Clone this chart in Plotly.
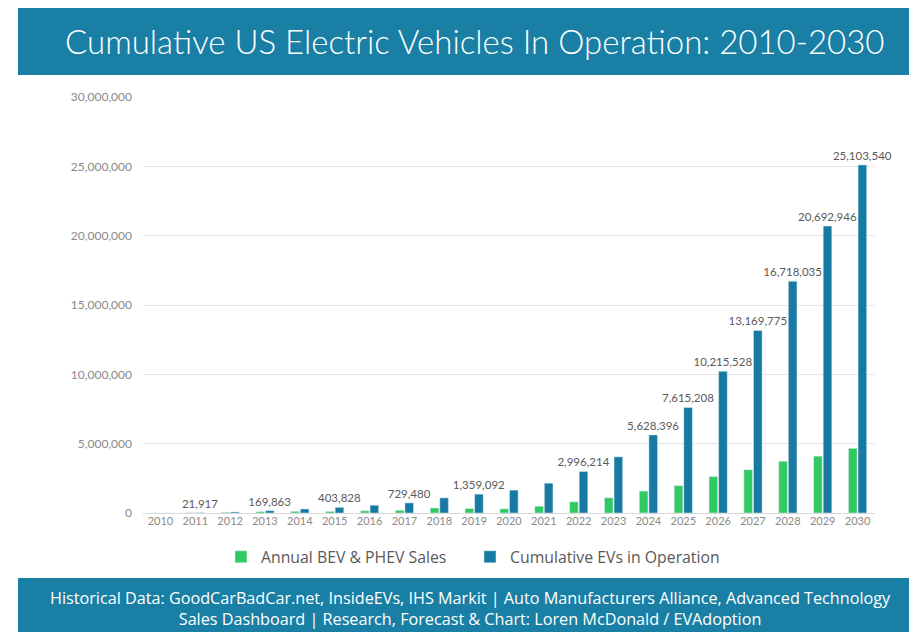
import plotly.graph_objects as go

# ---- data ----
years = [str(y) for y in range(2010, 2031)]
annual_sales = [1000, 17800, 53000, 97000, 119000, 114000, 160000, 195000, 361000, 327000,
                300000, 490000, 810000, 1100000, 1580000, 1970000, 2630000, 3120000,
                3730000, 4100000, 4660000]
cumulative = [3000, 21917, 75000, 169863, 290000, 403828, 560000, 729480, 1090000, 1359092,
              1650000, 2150000, 2996214, 4050000, 5628396, 7615208, 10215528, 13169775,
              16718035, 20692946, 25103540]
labeled_years = ["2011", "2013", "2015", "2017", "2019", "2022", "2024", "2025",
                 "2026", "2027", "2028", "2029", "2030"]
y_ticks = [0, 5000000, 10000000, 15000000, 20000000, 25000000, 30000000]

title_text = "Cumulative US Electric Vehicles In Operation: 2010-2030"
footer_text = ("Historical Data: GoodCarBadCar.net, InsideEVs, IHS Markit | Auto Manufacturers Alliance, Advanced Technology"
               "<br>Sales Dashboard | Research, Forecast & Chart: Loren McDonald / EVAdoption")

GREEN = "#2fcb62"
BLUE = "#167aa3"
BANNER = "#1a7fa5"

# page has an 8px body margin; figure is sized to fill the rest of the window
O = 8
W, H = 917 - O, 632 - O
L, R, T, B = 143 - O, 42, 97 - O, 119
PW, PH = W - L - R, H - T - B


def px(x_ref):
    return (x_ref - O - L) / PW


def py(y_ref):
    return (H - B - (y_ref - O)) / PH


cum_text = [f"{v:,}" if yr in labeled_years else "" for yr, v in zip(years, cumulative)]

fig = go.Figure()
fig.add_trace(go.Bar(x=years, y=annual_sales, name="Annual BEV & PHEV Sales",
                     marker_color=GREEN))
fig.add_trace(go.Bar(x=years, y=cumulative, name="Cumulative EVs in Operation",
                     marker_color=BLUE, text=cum_text, textposition="outside",
                     constraintext="none",
                     textfont=dict(size=11.5, color="#595959", family="Lato"),
                     cliponaxis=False))

fig.update_layout(
    width=W, height=H,
    margin=dict(l=L, r=R, t=T, b=B),
    paper_bgcolor="white", plot_bgcolor="white",
    barmode="group", bargap=0.45, bargroupgap=0.1,
    font=dict(family="Lato", color="#8a8a8a"),
    showlegend=True,
    legend=dict(orientation="h", x=px(221), xanchor="left", y=py(557), yanchor="middle",
                font=dict(size=15.8, color="#595959", family="Open Sans"),
                itemwidth=30,
                entrywidth=204, entrywidthmode="pixels", traceorder="normal"),
    xaxis=dict(type="category", tickfont=dict(size=11, color="#8a8a8a"),
               showgrid=False, ticks="", showline=False),
    yaxis=dict(range=[0, 30000000], tickvals=y_ticks, tickformat=",",
               tickfont=dict(size=12, color="#8a8a8a"),
               showgrid=True, gridcolor="#e6e6e6", gridwidth=1,
               zeroline=True, zerolinecolor="#d9d9d9", zerolinewidth=1,
               ticks="", ticklabelstandoff=10),
    shapes=[
        dict(type="rect", xref="paper", yref="paper", x0=px(18), x1=px(917), y0=py(75), y1=py(8),
             fillcolor=BANNER, line=dict(width=0), layer="below"),
        dict(type="rect", xref="paper", yref="paper", x0=px(18), x1=px(917), y0=py(632), y1=py(578),
             fillcolor=BANNER, line=dict(width=0), layer="below"),
    ],
    annotations=[
        dict(text=title_text, xref="paper", yref="paper", x=px(475), y=py(41),
             xanchor="center", yanchor="middle", showarrow=False,
             font=dict(size=33, color="white", family="Lato", weight=300)),
        dict(text=footer_text, xref="paper", yref="paper", x=px(470), y=py(608),
             xanchor="center", yanchor="middle", showarrow=False,
             font=dict(size=16.2, color="white", family="Open Sans")),
    ],
)

fig.write_html("out.html")
